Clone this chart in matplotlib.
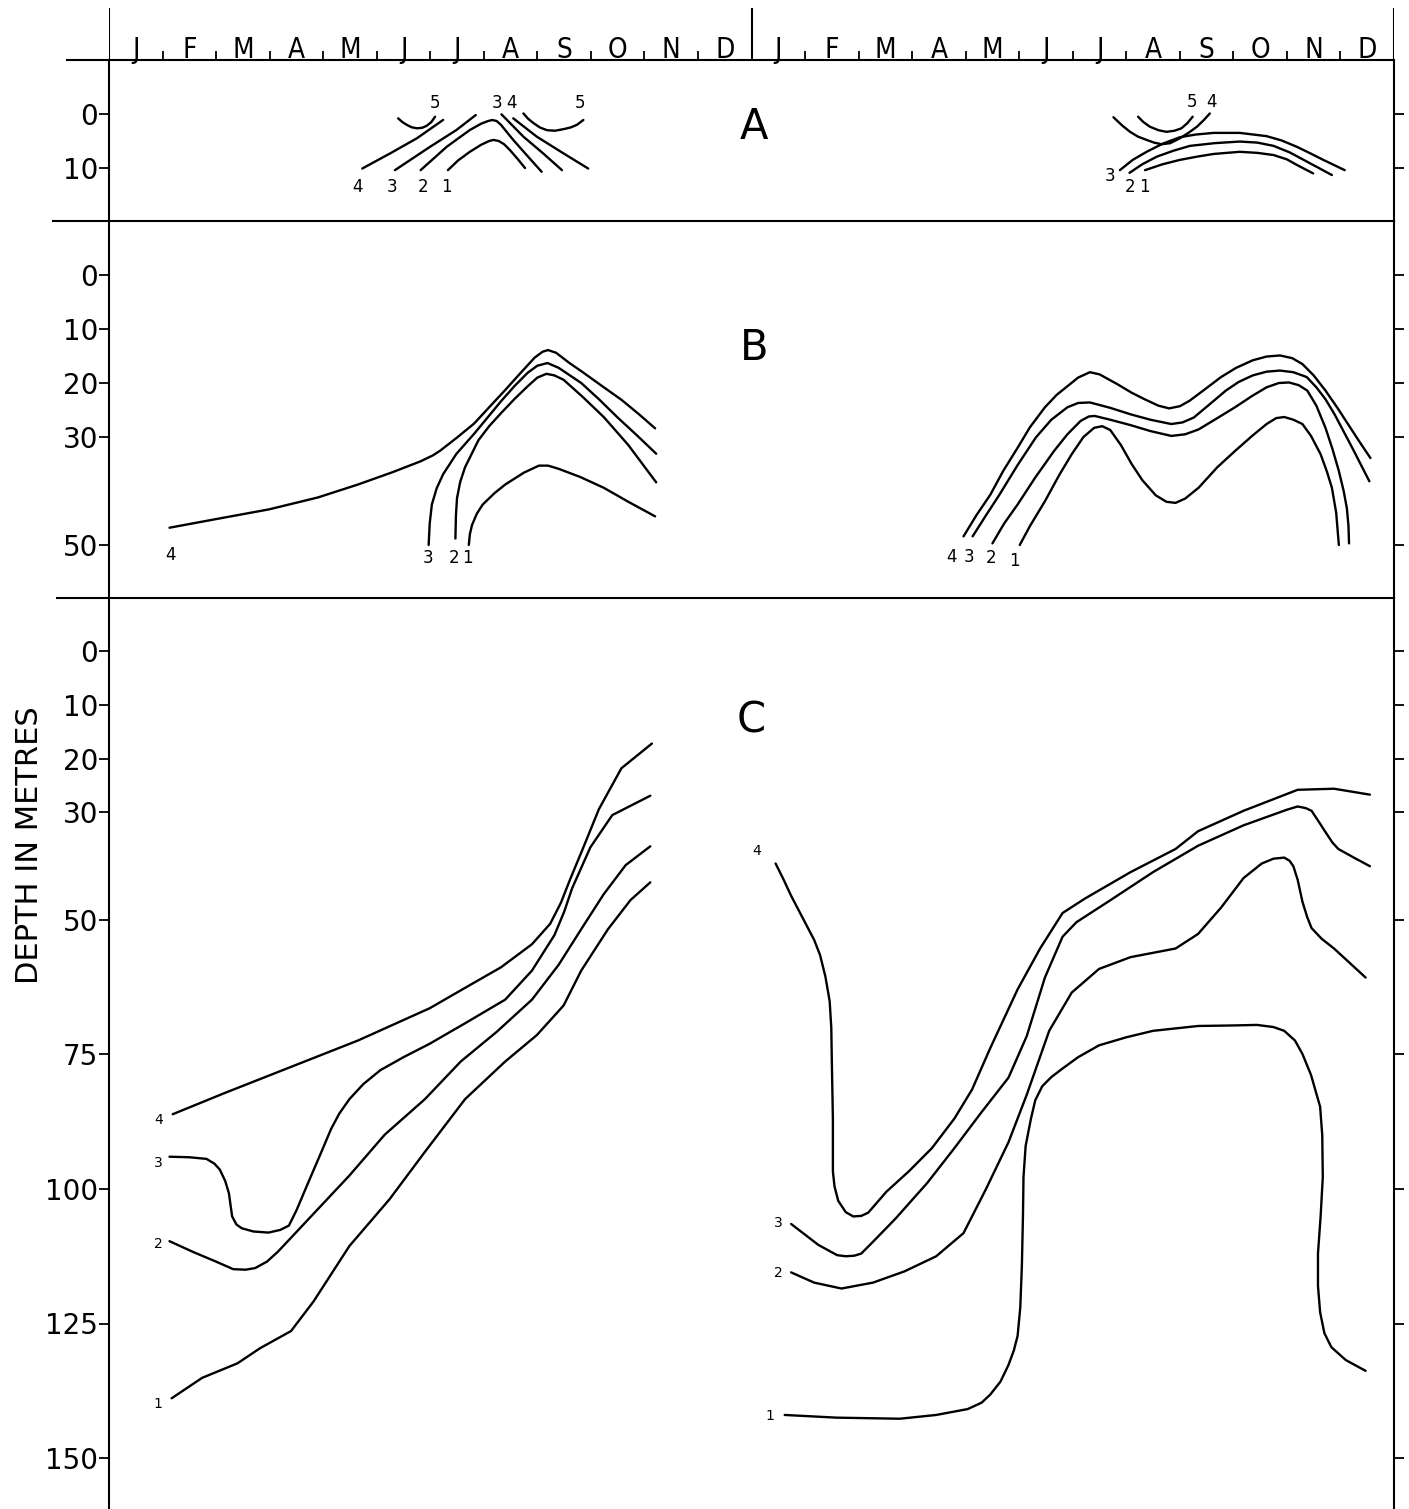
import matplotlib
matplotlib.use("Agg")
import matplotlib.pyplot as plt
from matplotlib.lines import Line2D

# month letters for the two years along the top
MONTHS = ["J", "F", "M", "A", "M", "J", "J", "A", "S", "O", "N", "D"]

A_TICKS = [0, 10]
B_TICKS = [0, 10, 20, 30, 50]
C_TICKS = [0, 10, 20, 30, 50, 75, 100, 125, 150]

# x = months from 1 Jan of the first year, depth in metres
# ---- panel A, first year
a1_yr1_x = [6.33, 6.52, 6.74, 6.95, 7.10, 7.18, 7.28, 7.38, 7.49, 7.63, 7.77]
a1_yr1_d = [10.4, 8.6, 7.0, 5.7, 5.0, 4.8, 5.0, 5.6, 6.7, 8.3, 10.0]
a2_yr1_x = [5.82, 6.31, 6.74, 6.95, 7.08, 7.16, 7.24, 7.32, 7.55, 7.80, 8.08]
a2_yr1_d = [10.4, 6.05, 2.96, 1.8, 1.3, 1.11, 1.3, 2.0, 4.8, 7.6, 10.7]
a3_yr1_left_x = [5.34, 6.00, 6.49, 6.85]
a3_yr1_left_d = [10.4, 6.05, 2.96, 0.19]
a3_yr1_right_x = [7.33, 7.74, 8.11, 8.46]
a3_yr1_right_d = [0.06, 4.2, 7.3, 10.4]
a4_yr1_left_x = [4.73, 5.25, 5.75, 6.24]
a4_yr1_left_d = [10.1, 7.3, 4.5, 1.1]
a4_yr1_right_x = [7.55, 7.99, 8.49, 8.95]
a4_yr1_right_d = [0.8, 4.2, 7.3, 10.1]
a5_yr1_left_x = [5.40, 5.48, 5.56, 5.65, 5.75, 5.85, 5.93, 6.02, 6.09]
a5_yr1_left_d = [0.8, 1.5, 2.0, 2.45, 2.65, 2.55, 2.2, 1.5, 0.5]
a5_yr1_right_x = [7.74, 7.83, 7.93, 8.05, 8.18, 8.33, 8.49, 8.62, 8.74, 8.86]
a5_yr1_right_d = [-0.1, 0.9, 1.7, 2.5, 3.0, 3.1, 2.8, 2.5, 2.0, 1.1]

# ---- panel A, second year
a1_yr2_x = [19.35, 19.68, 20.00, 20.32, 20.63, 21.12, 21.45, 21.75, 22.00, 22.18, 22.49]
a1_yr2_d = [10.4, 9.3, 8.5, 7.9, 7.4, 7.0, 7.2, 7.6, 8.4, 9.4, 11.0]
a2_yr2_x = [19.06, 19.30, 19.57, 19.88, 20.19, 20.65, 21.12, 21.45, 21.75, 22.05, 22.37, 22.84]
a2_yr2_d = [10.9, 9.3, 7.9, 6.8, 5.9, 5.4, 5.1, 5.3, 5.9, 7.1, 8.8, 11.3]
a3_yr2_x = [18.88, 19.12, 19.38, 19.68, 20.00, 20.30, 20.63, 21.12, 21.62, 21.90,
            22.18, 22.44, 22.68, 23.08]
a3_yr2_d = [10.4, 8.5, 7.0, 5.5, 4.3, 3.8, 3.5, 3.5, 4.1, 4.9,
            6.05, 7.3, 8.5, 10.4]
a4_yr2_x = [18.76, 18.92, 19.07, 19.22, 19.38, 19.52, 19.66, 19.82, 20.00, 20.16, 20.32, 20.45, 20.56]
a4_yr2_d = [0.6, 2.1, 3.3, 4.2, 4.8, 5.3, 5.6, 5.4, 4.5, 3.5, 2.35, 1.1, -0.1]
a5_yr2_x = [19.22, 19.32, 19.44, 19.60, 19.75, 19.90, 20.03, 20.14, 20.24]
a5_yr2_d = [0.5, 1.5, 2.35, 3.0, 3.3, 3.1, 2.65, 1.7, 0.5]

# ---- panel B, first year
b1_yr1_x = [6.72, 6.74, 6.78, 6.87, 6.98, 7.20, 7.40, 7.75, 8.03, 8.20, 8.40,
            8.80, 9.24, 9.70, 10.20]
b1_yr1_d = [50.0, 48.0, 46.3, 44.2, 42.5, 40.4, 38.8, 36.6, 35.3, 35.3, 35.9,
            37.4, 39.4, 42.0, 44.7]
b2_yr1_x = [6.47, 6.48, 6.50, 6.56, 6.65, 6.90, 7.10, 7.32, 7.57, 7.82, 8.00,
            8.17, 8.32, 8.49, 8.85, 9.24, 9.70, 10.22]
b2_yr1_d = [48.8, 44.5, 41.3, 38.3, 35.6, 30.6, 28.0, 25.6, 23.0, 20.6, 19.0,
            18.3, 18.6, 19.4, 22.6, 26.3, 31.5, 38.4]
b3_yr1_x = [5.97, 5.99, 6.03, 6.12, 6.24, 6.49, 6.82, 7.07, 7.32, 7.57, 7.82,
            8.00, 8.19, 8.40, 8.82, 9.15, 9.49, 9.85, 10.22]
b3_yr1_d = [50.0, 46.0, 42.5, 39.5, 36.9, 33.1, 29.4, 26.4, 23.4, 20.6, 18.1,
            16.8, 16.3, 17.2, 20.0, 23.0, 26.3, 29.6, 33.1]
b4_yr1_x = [1.13, 2.00, 2.99, 3.90, 4.65, 5.30, 5.82, 6.05, 6.19, 6.50, 6.82,
            7.10, 7.40, 7.70, 7.95, 8.10, 8.20, 8.35, 8.60, 8.82, 9.20, 9.57,
            9.90, 10.20]
b4_yr1_d = [46.8, 45.2, 43.4, 41.2, 38.8, 36.5, 34.5, 33.4, 32.5, 30.1, 27.5,
            24.5, 21.3, 18.0, 15.3, 14.2, 13.9, 14.4, 16.3, 17.8, 20.5, 23.1,
            25.8, 28.4]

# ---- panel B, second year
b1_yr2_x = [17.01, 17.20, 17.48, 17.75, 17.98, 18.20, 18.40, 18.55, 18.70, 18.90,
            19.10, 19.30, 19.55, 19.75, 19.92, 20.10, 20.35, 20.70, 21.03, 21.35,
            21.62, 21.80, 21.95, 22.12, 22.29, 22.45, 22.63, 22.75, 22.84, 22.92,
            22.97]
b1_yr2_d = [50.0, 46.5, 41.9, 37.0, 33.2, 30.0, 28.3, 28.0, 28.7, 31.5,
            35.0, 38.0, 40.8, 42.0, 42.2, 41.4, 39.4, 35.6, 32.6, 29.8,
            27.6, 26.5, 26.3, 26.8, 27.6, 29.8, 33.2, 36.5, 39.4, 44.0,
            50.0]
b2_yr2_x = [16.50, 16.72, 16.97, 17.30, 17.65, 17.90, 18.15, 18.30, 18.41, 18.70,
            19.08, 19.45, 19.84, 20.10, 20.35, 20.70, 21.03, 21.35, 21.62, 21.85,
            22.04, 22.22, 22.38, 22.55, 22.72, 22.85, 22.97, 23.06, 23.12, 23.15,
            23.16]
b2_yr2_d = [49.7, 46.0, 42.5, 37.5, 32.6, 29.5, 27.0, 26.2, 26.1, 26.8,
            27.8, 28.9, 29.8, 29.5, 28.6, 26.5, 24.5, 22.4, 20.8, 20.0,
            19.9, 20.4, 21.4, 24.2, 28.3, 32.2, 36.3, 40.0, 43.2, 46.5,
            49.7]
b3_yr2_x = [16.13, 16.38, 16.63, 16.97, 17.31, 17.60, 17.90, 18.10, 18.32, 18.70,
            19.08, 19.45, 19.84, 20.05, 20.26, 20.55, 20.86, 21.10, 21.36, 21.62,
            21.87, 22.12, 22.37, 22.55, 22.72, 22.89, 23.05, 23.22, 23.38, 23.54]
b3_yr2_d = [48.4, 44.5, 40.7, 35.2, 30.1, 26.8, 24.5, 23.7, 23.6, 24.6,
            25.8, 26.8, 27.6, 27.3, 26.4, 24.0, 21.4, 19.8, 18.6, 17.9,
            17.7, 18.0, 18.9, 20.8, 23.0, 25.8, 28.8, 32.0, 35.1, 38.2]
b4_yr2_x = [15.96, 16.20, 16.46, 16.70, 16.97, 17.20, 17.48, 17.70, 17.90, 18.10,
            18.32, 18.50, 18.83, 19.10, 19.34, 19.60, 19.80, 20.00, 20.18, 20.45,
            20.77, 21.05, 21.36, 21.62, 21.87, 22.10, 22.29, 22.50, 22.72, 22.95,
            23.14, 23.35, 23.56]
b4_yr2_d = [48.4, 44.5, 40.7, 36.3, 32.0, 28.2, 24.5, 22.2, 20.6, 19.0,
            18.0, 18.4, 20.2, 21.8, 23.0, 24.2, 24.7, 24.3, 23.3, 21.3,
            18.9, 17.2, 15.8, 15.1, 14.9, 15.4, 16.5, 18.6, 21.4, 24.7,
            27.6, 30.8, 33.9]

# ---- panel C, first year
c1_yr1_x = [1.17, 1.74, 2.40, 2.82, 3.40, 3.82, 4.49, 5.24, 5.90, 6.65, 7.40,
            7.99, 8.49, 8.82, 9.32, 9.74, 10.11]
c1_yr1_d = [138.9, 135.1, 132.4, 129.6, 126.4, 120.9, 110.6, 101.9, 93.1, 83.3, 76.3,
            71.4, 65.9, 59.4, 51.7, 46.3, 43.0]
c2_yr1_x = [1.13, 1.57, 2.00, 2.32, 2.55, 2.73, 2.95, 3.15, 3.50, 3.82, 4.49,
            5.15, 5.90, 6.57, 7.24, 7.90, 8.40, 8.82, 9.24, 9.65, 10.11]
c2_yr1_d = [109.7, 111.7, 113.5, 114.9, 115.0, 114.7, 113.5, 111.7, 108.0, 104.6, 97.5,
            89.9, 83.3, 76.3, 70.8, 64.8, 58.3, 51.7, 45.2, 39.8, 36.3]
c3_yr1_x = [1.13, 1.50, 1.82, 1.97, 2.07, 2.17, 2.24, 2.27, 2.30, 2.38, 2.48,
            2.70, 2.98, 3.20, 3.36, 3.50, 3.73, 3.95, 4.15, 4.30, 4.49, 4.75,
            5.07, 5.50, 5.99, 6.65, 7.40, 7.90, 8.32, 8.50, 8.65, 8.99, 9.40,
            10.11]
c3_yr1_d = [94.0, 94.1, 94.4, 95.3, 96.4, 98.5, 100.8, 103.0, 105.1, 106.6, 107.3,
            107.9, 108.1, 107.6, 106.8, 104.0, 98.6, 93.5, 88.8, 86.0, 83.3, 80.5,
            77.9, 75.5, 73.0, 69.2, 64.8, 59.4, 52.8, 48.5, 44.1, 36.5, 30.5,
            26.9]
c4_yr1_x = [1.19, 2.15, 3.40, 4.65, 5.99, 6.74, 7.32, 7.90, 8.24, 8.44, 8.61,
            8.86, 9.15, 9.57, 10.14]
c4_yr1_d = [86.1, 82.2, 77.3, 72.4, 66.4, 62.1, 58.8, 54.5, 50.7, 46.8, 42.5,
            36.5, 29.4, 21.8, 17.2]

# ---- panel C, second year
c1_yr2_x = [12.62, 13.59, 14.77, 15.45, 16.04, 16.30, 16.46, 16.65, 16.80, 16.90,
            16.97, 17.02, 17.05, 17.07, 17.08, 17.12, 17.22, 17.30, 17.43, 17.60,
            17.81, 18.10, 18.49, 19.00, 19.50, 20.34, 21.00, 21.44, 21.75, 21.95,
            22.15, 22.29, 22.45, 22.62, 22.66, 22.67, 22.63, 22.58, 22.58, 22.62,
            22.70, 22.83, 23.10, 23.47]
c1_yr2_d = [142.0, 142.5, 142.7, 142.0, 140.9, 139.7, 138.2, 135.8, 132.7, 130.0,
            127.3, 122.0, 114.2, 105.0, 97.8, 92.0, 86.9, 83.5, 80.9, 79.2,
            77.6, 75.5, 73.3, 71.8, 70.6, 69.7, 69.6, 69.5, 69.9, 70.6,
            72.4, 74.9, 78.8, 84.7, 90.0, 97.8, 105.0, 112.0, 118.0, 122.9,
            126.8, 129.4, 131.8, 133.8]
c2_yr2_x = [12.74, 13.17, 13.68, 14.27, 14.86, 15.45, 15.96, 16.38, 16.80, 17.14,
            17.56, 17.98, 18.49, 19.08, 19.92, 20.34, 20.77, 21.19, 21.53, 21.75,
            21.95, 22.05, 22.12, 22.20, 22.29, 22.38, 22.46, 22.65, 22.88, 23.47]
c2_yr2_d = [115.5, 117.4, 118.5, 117.4, 115.3, 112.5, 108.2, 100.0, 91.3, 82.5,
            70.6, 63.5, 59.1, 56.9, 55.3, 52.6, 47.7, 42.2, 39.5, 38.6,
            38.4, 39.0, 40.0, 42.5, 46.6, 49.5, 51.5, 53.5, 55.3, 60.7]
c3_yr2_x = [12.74, 13.25, 13.60, 13.76, 13.92, 14.05, 14.27, 14.69, 15.28, 15.79,
            16.29, 16.80, 17.14, 17.48, 17.81, 18.07, 18.66, 19.50, 20.34, 21.19,
            22.00, 22.20, 22.35, 22.46, 22.58, 22.71, 22.85, 22.96, 23.25, 23.55]
c3_yr2_d = [106.5, 110.4, 112.3, 112.5, 112.4, 112.0, 109.8, 105.5, 98.9, 92.4,
            85.8, 79.3, 71.6, 60.7, 53.1, 50.4, 46.6, 41.1, 36.2, 32.4,
            29.5, 28.9, 29.2, 29.7, 31.5, 33.5, 35.6, 36.8, 38.4, 40.0]
c4_yr2_x = [12.45, 12.60, 12.74, 12.95, 13.17, 13.28, 13.38, 13.46, 13.49, 13.50,
            13.52, 13.52, 13.55, 13.62, 13.76, 13.90, 14.05, 14.18, 14.52, 14.94,
            15.37, 15.79, 16.12, 16.46, 16.97, 17.39, 17.81, 18.23, 19.08, 19.92,
            20.34, 21.19, 22.20, 22.88, 23.55]
c4_yr2_d = [39.5, 42.5, 45.5, 49.5, 53.7, 56.5, 60.5, 65.1, 70.0, 76.0,
            86.9, 96.7, 99.5, 102.2, 104.3, 105.1, 105.0, 104.4, 100.5, 96.7,
            92.4, 86.9, 81.5, 73.8, 62.9, 55.3, 48.7, 46.0, 41.1, 36.8,
            33.5, 29.7, 25.8, 25.6, 26.7]


# ---------------------------------------------------------------------------
W, H = 1409, 1509
X0, X1 = 109, 1394          # Jan of year 1 .. end of Dec of year 2 (pixels)
TOP, HEAD, AB, BC = 8, 60, 221, 598

fig = plt.figure(figsize=(W / 100, H / 100), dpi=100)
plt.rcParams["font.family"] = ["DejaVu Sans"]
LW = 1.5


def make_panel(top, bottom, zero_px, px_per_m, ticks):
    ax = fig.add_axes([X0 / W, 1 - bottom / H, (X1 - X0) / W, (bottom - top) / H])
    ax.set_xlim(0, 24)
    ax.set_ylim((bottom - zero_px) / px_per_m, (top - zero_px) / px_per_m)
    ax.set_xticks([])
    ax.set_yticks(ticks)
    ax.set_yticklabels([str(t) for t in ticks])
    ax.tick_params(axis="y", direction="out", length=7, width=1.3,
                   left=True, right=True, labelleft=True, labelright=False,
                   labelsize=20, pad=1)
    for s in ["top", "bottom"]:
        ax.spines[s].set_visible(False)
    for s in ["left", "right"]:
        ax.spines[s].set_linewidth(LW)
    ax.set_facecolor("none")
    return ax


def curve(ax, x, d):
    ax.plot(x, d, color="black", lw=1.7, solid_capstyle="round",
            solid_joinstyle="round")


def num(ax, s, x, d, size):
    ax.text(x, d, s, ha="center", va="center", fontsize=size, color="black")


ax_a = make_panel(HEAD, AB, 114, 5.4, A_TICKS)
ax_b = make_panel(AB, BC, 275, 5.4, B_TICKS)
ax_c = make_panel(BC, H, 651, 5.38, C_TICKS)

# header with month letters
ax_h = fig.add_axes([X0 / W, 1 - HEAD / H, (X1 - X0) / W, (HEAD - TOP) / H])
ax_h.set_xlim(0, 24)
ax_h.set_ylim(0, HEAD - TOP)
ax_h.axis("off")
for i, m in enumerate(MONTHS + MONTHS):
    ax_h.text(i + 0.5, 1.5, m, ha="center", va="baseline", fontsize=20,
              fontstretch="condensed")
ax_h.vlines([i for i in range(1, 24) if i != 12], 0, 9, color="black", lw=1.3)
ax_h.vlines([0, 12, 24], 0, HEAD - TOP, color="black", lw=LW)

# horizontal rules between panels
for y, xs in [(HEAD, 67), (AB, 53), (BC, 57)]:
    fig.add_artist(Line2D([xs / W, X1 / W], [1 - y / H, 1 - y / H],
                          color="black", lw=LW, transform=fig.transFigure))

# ---- panel A
for x, d in [(a1_yr1_x, a1_yr1_d), (a2_yr1_x, a2_yr1_d),
             (a3_yr1_left_x, a3_yr1_left_d), (a3_yr1_right_x, a3_yr1_right_d),
             (a4_yr1_left_x, a4_yr1_left_d), (a4_yr1_right_x, a4_yr1_right_d),
             (a5_yr1_left_x, a5_yr1_left_d), (a5_yr1_right_x, a5_yr1_right_d),
             (a1_yr2_x, a1_yr2_d), (a2_yr2_x, a2_yr2_d), (a3_yr2_x, a3_yr2_d),
             (a4_yr2_x, a4_yr2_d), (a5_yr2_x, a5_yr2_d)]:
    curve(ax_a, x, d)
for s, x, d in [("4", 4.65, 13.5), ("3", 5.29, 13.5), ("2", 5.86, 13.5), ("1", 6.31, 13.5),
                ("5", 6.09, -2.0), ("3", 7.25, -2.0), ("4", 7.51, -2.0), ("5", 8.80, -2.0),
                ("5", 20.23, -2.3), ("4", 20.60, -2.3), ("3", 18.70, 11.5),
                ("2", 19.07, 13.5), ("1", 19.33, 13.5)]:
    num(ax_a, s, x, d, 12)
ax_a.text(12.05, 2.4, "A", ha="center", va="center", fontsize=30)

# ---- panel B
for x, d in [(b1_yr1_x, b1_yr1_d), (b2_yr1_x, b2_yr1_d), (b3_yr1_x, b3_yr1_d),
             (b4_yr1_x, b4_yr1_d), (b1_yr2_x, b1_yr2_d), (b2_yr2_x, b2_yr2_d),
             (b3_yr2_x, b3_yr2_d), (b4_yr2_x, b4_yr2_d)]:
    curve(ax_b, x, d)
for s, x, d in [("4", 1.14, 51.8), ("3", 5.96, 52.4), ("2", 6.44, 52.4), ("1", 6.69, 52.4),
                ("4", 15.73, 52.2), ("3", 16.06, 52.2), ("2", 16.47, 52.4), ("1", 16.92, 53.0)]:
    num(ax_b, s, x, d, 12)
ax_b.text(12.05, 13.5, "B", ha="center", va="center", fontsize=30)

# ---- panel C
for x, d in [(c1_yr1_x, c1_yr1_d), (c2_yr1_x, c2_yr1_d), (c3_yr1_x, c3_yr1_d),
             (c4_yr1_x, c4_yr1_d), (c1_yr2_x, c1_yr2_d), (c2_yr2_x, c2_yr2_d),
             (c3_yr2_x, c3_yr2_d), (c4_yr2_x, c4_yr2_d)]:
    curve(ax_c, x, d)
for s, x, d in [("4", 0.92, 87.2), ("3", 0.92, 95.2), ("2", 0.92, 110.3), ("1", 0.92, 140.0),
                ("4", 12.09, 37.1), ("3", 12.51, 106.3), ("2", 12.51, 115.6),
                ("1", 12.35, 142.2)]:
    num(ax_c, s, x, d, 10)
ax_c.text(12.0, 13.0, "C", ha="center", va="center", fontsize=30)

fig.text(30 / W, 1 - 845 / H, "DEPTH IN METRES", rotation=90, ha="center",
         va="center", fontsize=22)

fig.savefig("out.png", dpi=100, facecolor="white")
